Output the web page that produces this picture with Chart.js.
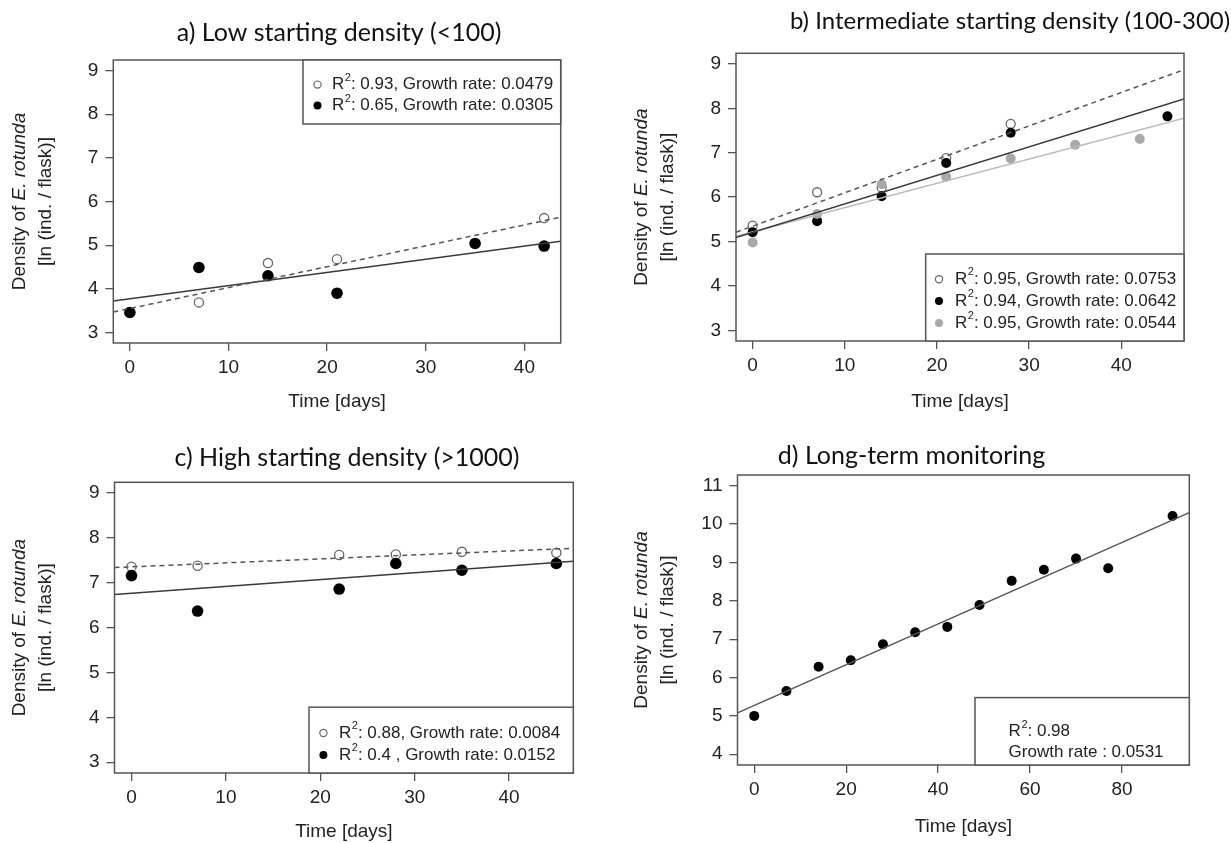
<!DOCTYPE html>
<html>
<head>
<meta charset="utf-8">
<script src="https://cdn.jsdelivr.net/npm/chart.js@4.4.0/dist/chart.umd.min.js"></script>
<style>
  html, body { margin: 0; padding: 0; background: #fff; }
  body { width: 1231px; height: 843px; position: relative; overflow: hidden; }
  canvas { position: absolute; }
</style>
</head>
<body>
<canvas id="chartA" width="615" height="421" style="left:0;top:0"></canvas>
<canvas id="chartB" width="616" height="421" style="left:615px;top:0"></canvas>
<canvas id="chartC" width="615" height="422" style="left:0;top:421px"></canvas>
<canvas id="chartD" width="616" height="422" style="left:615px;top:421px"></canvas>
<script>
// ---- data ----
// a) low starting density
const aOpenDays = [0, 7, 14, 21, 42];
const aOpenDensity = [3.45, 3.69, 4.59, 4.68, 5.62];
const aFilledDays = [0, 7, 14, 21, 35, 42];
const aFilledDensity = [3.46, 4.49, 4.30, 3.90, 5.04, 4.98];
const aFitOpen = [3.47, 5.64];     // fitted line at left / right plot edge
const aFitFilled = [3.72, 5.09];

// b) intermediate starting density
const bOpenDays = [0, 7, 14, 21, 28];
const bOpenDensity = [5.36, 6.11, 6.22, 6.88, 7.65];
const bFilledDays = [0, 7, 14, 21, 28, 45];
const bFilledDensity = [5.21, 5.46, 6.02, 6.77, 7.45, 7.82];
const bGrayDays = [0, 7, 14, 21, 28, 35, 42];
const bGrayDensity = [4.98, 5.62, 6.29, 6.46, 6.87, 7.18, 7.31];
const bFitOpen = [5.21, 8.87];
const bFitFilled = [5.09, 8.21];
const bFitGray = [5.12, 7.78];

// c) high starting density
const cDays = [0, 7, 22, 28, 35, 45];
const cOpenDensity = [7.36, 7.38, 7.62, 7.63, 7.69, 7.67];
const cFilledDensity = [7.16, 6.37, 6.86, 7.43, 7.28, 7.43];
const cFitOpen = [7.34, 7.77];
const cFitFilled = [6.74, 7.48];

// d) long-term monitoring
const dDays = [0, 7, 14, 21, 28, 35, 42, 49, 56, 63, 70, 77, 91];
const dDensity = [5.00, 5.65, 6.28, 6.45, 6.87, 7.18, 7.32, 7.89, 8.52, 8.81, 9.10, 8.85, 10.21];
const dFit = [5.08, 10.30];

// axes
const daysTicks = [0, 10, 20, 30, 40];
const longDaysTicks = [0, 20, 40, 60, 80];
const densityTicks = [3, 4, 5, 6, 7, 8, 9];
const longDensityTicks = [4, 5, 6, 7, 8, 9, 10, 11];
const xLimA = [-1.68, 43.68];
const xLim45 = [-1.8, 46.8];
const xLimD = [-3.64, 94.64];
const yLim = [2.76, 9.24];
const yLimD = [3.72, 11.28];

// text
const titles = [
  'a) Low starting density (<100)',
  'b) Intermediate starting density (100-300)',
  'c) High starting density (>1000)',
  'd) Long-term monitoring'
];
const legendA = [': 0.93, Growth rate: 0.0479', ': 0.65, Growth rate: 0.0305'];
const legendB = [': 0.95, Growth rate: 0.0753', ': 0.94, Growth rate: 0.0642', ': 0.95, Growth rate: 0.0544'];
const legendC = [': 0.88, Growth rate: 0.0084', ': 0.4 , Growth rate: 0.0152'];
const legendD = [': 0.98', 'Growth rate : 0.0531'];

// ---- styling ----
Chart.defaults.font.family = '"Liberation Sans", Arial, sans-serif';
const INK = '#222';
const FRAME = '#555';
const OPEN = '#666';
const GRAY = '#a8a8a8';

const pts = (xs, ys) => xs.map((x, i) => ({ x: x, y: ys[i] }));
const fitLine = (lim, ends) => [{ x: lim[0], y: ends[0] }, { x: lim[1], y: ends[1] }];

function openSet(data, r) {
  return { data: data, pointRadius: r, pointBorderWidth: 1.3, pointBorderColor: OPEN,
           pointBackgroundColor: 'rgba(255,255,255,0)' };
}
function filledSet(data, r, color) {
  return { data: data, pointRadius: r, pointBorderWidth: 0, pointBorderColor: color,
           pointBackgroundColor: color };
}
function lineSet(data, color, dash, width) {
  return { data: data, showLine: true, pointRadius: 0, borderColor: color,
           borderWidth: width || 1.5, borderDash: dash || [] };
}

// draws frame, title, y title and legend the way R does
const rDecor = {
  id: 'rDecor',
  afterDraw(chart, args, o) {
    const ctx = chart.ctx;
    const ca = chart.chartArea;
    ctx.save();
    ctx.strokeStyle = FRAME;
    ctx.lineWidth = 1.5;
    ctx.strokeRect(ca.left, ca.top, ca.right - ca.left, ca.bottom - ca.top);

    // panel title
    ctx.fillStyle = '#111';
    ctx.font = (o.titleSize || 25) + 'px Lato';
    ctx.textAlign = 'center';
    ctx.textBaseline = 'middle';
    ctx.fillText(o.title, o.titleX, o.titleY);

    // y axis title, two lines, rotated
    const cy = (ca.top + ca.bottom) / 2;
    const norm = '19px "Liberation Sans"';
    const ital = 'italic 19px "Liberation Sans"';
    ctx.fillStyle = INK;
    ctx.save();
    ctx.translate(o.yTitleX[0], cy);
    ctx.rotate(-Math.PI / 2);
    ctx.textAlign = 'left';
    ctx.font = norm;
    const w1 = ctx.measureText('Density of ').width;
    ctx.font = ital;
    const w2 = ctx.measureText('E. rotunda').width;
    ctx.font = norm;
    ctx.fillText('Density of ', -(w1 + w2) / 2, 0);
    ctx.font = ital;
    ctx.fillText('E. rotunda', -(w1 + w2) / 2 + w1, 0);
    ctx.restore();
    ctx.save();
    ctx.translate(o.yTitleX[1], cy);
    ctx.rotate(-Math.PI / 2);
    ctx.textAlign = 'center';
    ctx.font = norm;
    ctx.fillText('[ln (ind. / flask)]', 0, 0);
    ctx.restore();

    // legend box
    const lg = o.legend;
    const lx = lg.left, ly = lg.top, lw = ca.right - lg.left, lh = lg.bottom - lg.top;
    ctx.fillStyle = '#fff';
    ctx.fillRect(lx, ly, lw, lh);
    ctx.strokeStyle = FRAME;
    ctx.lineWidth = 1.5;
    ctx.strokeRect(lx, ly, lw, lh);
    ctx.textAlign = 'left';
    ctx.textBaseline = 'middle';
    lg.rows.forEach((row, i) => {
      const y = lg.rowY[i];
      if (row.sym) {
        ctx.beginPath();
        ctx.arc(lg.symX, y, row.sym === 'open' ? 3.6 : 4, 0, Math.PI * 2);
        if (row.sym === 'open') {
          ctx.strokeStyle = OPEN; ctx.lineWidth = 1.2; ctx.stroke();
        } else {
          ctx.fillStyle = row.sym === 'gray' ? GRAY : '#000'; ctx.fill();
        }
      }
      ctx.fillStyle = INK;
      let x = lg.textX;
      if (row.r2) {
        ctx.font = '17px "Liberation Sans"';
        ctx.fillText('R', x, y);
        x += ctx.measureText('R').width;
        ctx.font = '11px "Liberation Sans"';
        ctx.fillText('2', x + 0.5, y - 7);
        x += ctx.measureText('2').width + 0.5;
      }
      ctx.font = '17px "Liberation Sans"';
      ctx.fillText(row.text, x, y);
    });
    ctx.restore();
  }
};

function makePanel(id, p) {
  new Chart(document.getElementById(id), {
    type: 'scatter',
    data: { datasets: p.datasets },
    plugins: [rDecor],
    options: {
      responsive: false,
      animation: false,
      events: [],
      layout: { padding: { left: 0, top: p.top, right: p.right, bottom: 0 } },
      plugins: { legend: { display: false }, tooltip: { enabled: false }, rDecor: p.decor },
      scales: {
        x: {
          type: 'linear', min: p.xLim[0], max: p.xLim[1],
          afterBuildTicks: (s) => { s.ticks = p.xTicks.map(v => ({ value: v })); },
          afterFit: (s) => { s.height = p.xHeight; },
          grid: { drawOnChartArea: false, drawTicks: true, tickLength: 8, color: FRAME, lineWidth: 1.3 },
          border: { display: false },
          ticks: { color: INK, font: { size: 19 }, padding: 5, maxRotation: 0, autoSkip: false },
          title: { display: true, text: 'Time [days]', color: INK, font: { size: 19 },
                   padding: { top: 0, bottom: p.xTitlePad } }
        },
        y: {
          type: 'linear', min: p.yLim[0], max: p.yLim[1],
          afterBuildTicks: (s) => { s.ticks = p.yTicks.map(v => ({ value: v })); },
          afterFit: (s) => { s.width = p.yWidth; },
          grid: { drawOnChartArea: false, drawTicks: true, tickLength: 8, color: FRAME, lineWidth: 1.3 },
          border: { display: false },
          ticks: { color: INK, font: { size: 19 }, padding: 7, autoSkip: false }
        }
      }
    }
  });
}

makePanel('chartA', {
  xLim: xLimA, yLim: yLim, xTicks: daysTicks, yTicks: densityTicks,
  top: 60, right: 54.3, yWidth: 113.3, xHeight: 78, xTitlePad: 7.5,
  datasets: [
    lineSet(fitLine(xLimA, aFitOpen), '#555', [5, 4]),
    lineSet(fitLine(xLimA, aFitFilled), '#3a3a3a'),
    filledSet(pts(aFilledDays, aFilledDensity), 5.8, '#000'),
    openSet(pts(aOpenDays, aOpenDensity), 4.6)
  ],
  decor: {
    title: titles[0], titleX: 339, titleY: 33, yTitleX: [20, 46],
    legend: { left: 303, top: 60, bottom: 124, symX: 317.5, textX: 332, rowY: [84.6, 105.5],
              rows: [{ sym: 'open', r2: true, text: legendA[0] }, { sym: 'filled', r2: true, text: legendA[1] }] }
  }
});

makePanel('chartB', {
  xLim: xLim45, yLim: yLim, xTicks: daysTicks, yTicks: densityTicks,
  top: 53.3, right: 47, yWidth: 121, xHeight: 80, xTitlePad: 7.5,
  datasets: [
    lineSet(fitLine(xLim45, bFitOpen), '#555', [5, 4]),
    lineSet(fitLine(xLim45, bFitFilled), '#3a3a3a'),
    lineSet(fitLine(xLim45, bFitGray), '#bbb'),
    filledSet(pts(bGrayDays, bGrayDensity), 5, GRAY),
    filledSet(pts(bFilledDays, bFilledDensity), 5, '#000'),
    openSet(pts(bOpenDays, bOpenDensity), 4.5)
  ],
  decor: {
    title: titles[1], titleX: 395, titleY: 21, titleSize: 24, yTitleX: [27, 53],
    legend: { left: 310.7, top: 254, bottom: 341, symX: 324, textX: 340, rowY: [279.3, 301, 323],
              rows: [{ sym: 'open', r2: true, text: legendB[0] }, { sym: 'filled', r2: true, text: legendB[1] },
                     { sym: 'gray', r2: true, text: legendB[2] }] }
  }
});

makePanel('chartC', {
  xLim: xLim45, yLim: yLim, xTicks: daysTicks, yTicks: densityTicks,
  top: 61.3, right: 41.7, yWidth: 114.5, xHeight: 70, xTitlePad: 0,
  datasets: [
    lineSet(fitLine(xLim45, cFitOpen), '#555', [5, 4]),
    lineSet(fitLine(xLim45, cFitFilled), '#3a3a3a'),
    filledSet(pts(cDays, cFilledDensity), 5.8, '#000'),
    openSet(pts(cDays, cOpenDensity), 4.6)
  ],
  decor: {
    title: titles[2], titleX: 347, titleY: 37.4, yTitleX: [20, 46],
    legend: { left: 309, top: 286.2, bottom: 352, symX: 323.4, textX: 339, rowY: [312, 334],
              rows: [{ sym: 'open', r2: true, text: legendC[0] }, { sym: 'filled', r2: true, text: legendC[1] }] }
  }
});

makePanel('chartD', {
  xLim: xLimD, yLim: yLimD, xTicks: longDaysTicks, yTicks: longDensityTicks,
  top: 54, right: 41.7, yWidth: 122.5, xHeight: 78, xTitlePad: 4.5,
  datasets: [
    lineSet(fitLine(xLimD, dFit), '#555'),
    filledSet(pts(dDays, dDensity), 5, '#000')
  ],
  decor: {
    title: titles[3], titleX: 296.5, titleY: 34.7, yTitleX: [27, 53],
    legend: { left: 360, top: 276.6, bottom: 344, symX: 0, textX: 393.6, rowY: [310.6, 331.6],
              rows: [{ r2: true, text: legendD[0] }, { text: legendD[1] }] }
  }
});
</script>
</body>
</html>
